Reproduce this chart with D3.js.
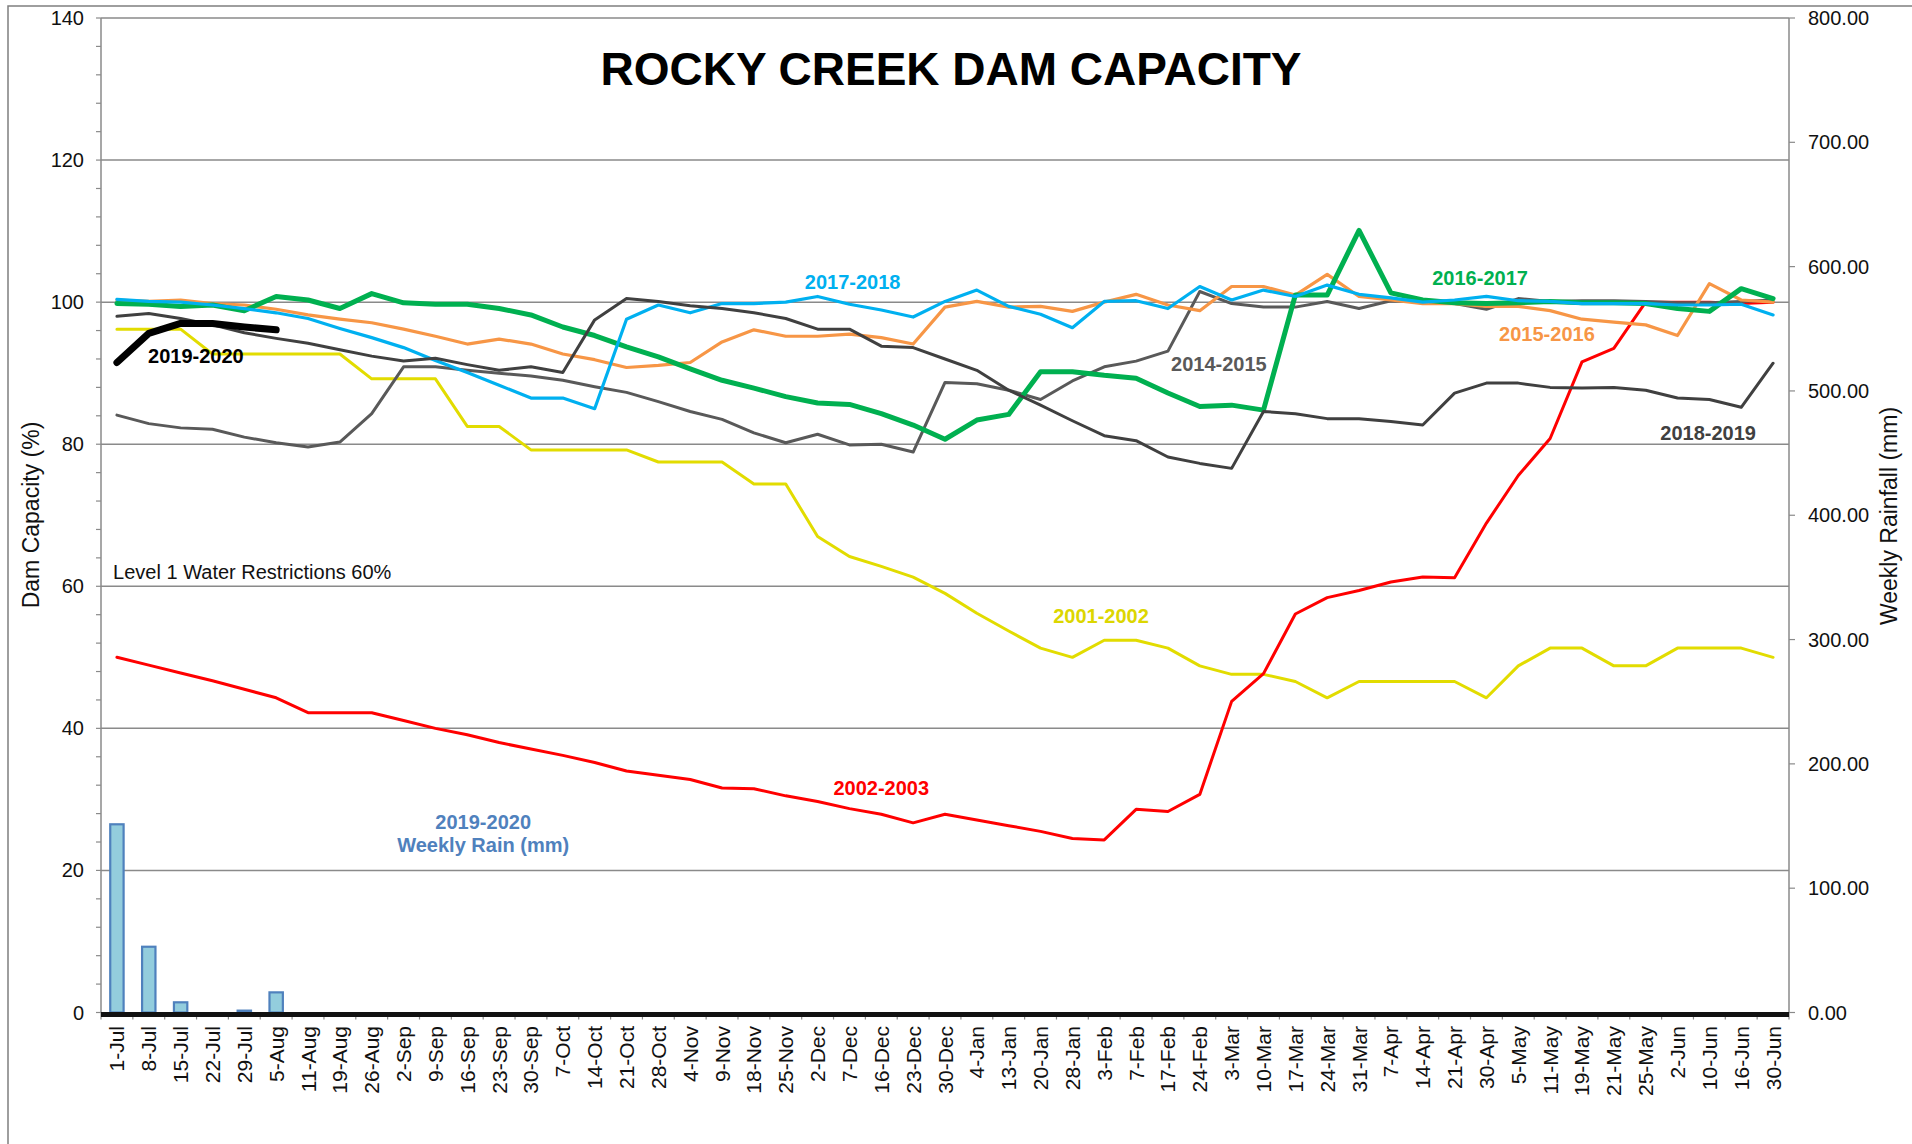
<!DOCTYPE html>
<html>
<head>
<meta charset="utf-8">
<script src="https://cdn.jsdelivr.net/npm/d3@7"></script>
<style>
  html, body { margin: 0; padding: 0; background: #fff; }
  svg { display: block; font-family: Arial, "Liberation Sans", sans-serif; }
</style>
</head>
<body>
<svg id="chart" width="1912" height="1144"></svg>
<script>
// Week starting dates (financial year July to June)
const weeks = ["1-Jul","8-Jul","15-Jul","22-Jul","29-Jul","5-Aug","11-Aug","19-Aug","26-Aug","2-Sep",
  "9-Sep","16-Sep","23-Sep","30-Sep","7-Oct","14-Oct","21-Oct","28-Oct","4-Nov","9-Nov",
  "18-Nov","25-Nov","2-Dec","7-Dec","16-Dec","23-Dec","30-Dec","4-Jan","13-Jan","20-Jan",
  "28-Jan","3-Feb","7-Feb","17-Feb","24-Feb","3-Mar","10-Mar","17-Mar","24-Mar","31-Mar",
  "7-Apr","14-Apr","21-Apr","30-Apr","5-May","11-May","19-May","21-May","25-May","2-Jun",
  "10-Jun","16-Jun","30-Jun"];

// Dam capacity (%) per week, one array per year
const cap2001 = [96.2,96.2,96.2,92.7,92.7,92.7,92.7,92.7,89.2,89.2,89.2,82.5,82.5,79.2,79.2,79.2,79.2,77.5,77.5,77.5,
  74.4,74.4,67.0,64.2,62.8,61.3,59.0,56.2,53.7,51.3,50.0,52.4,52.4,51.3,48.8,47.6,47.6,46.6,44.3,46.6,
  46.6,46.6,46.6,44.3,48.8,51.3,51.3,48.8,48.8,51.3,51.3,51.3,50.0];
const cap2002 = [50.0,48.9,47.8,46.7,45.5,44.3,42.2,42.2,42.2,41.1,40.0,39.1,38.0,37.1,36.2,35.2,34.0,33.4,32.8,31.6,
  31.5,30.5,29.7,28.7,27.9,26.7,27.9,27.1,26.3,25.5,24.5,24.3,28.6,28.3,30.7,43.8,47.7,56.1,58.4,59.4,
  60.6,61.3,61.2,68.9,75.6,80.8,91.6,93.5,100.0,100.0,100.0,99.8,100.0];
const cap2014 = [84.1,82.9,82.3,82.1,81.0,80.2,79.6,80.3,84.3,90.9,90.9,90.4,90.0,89.6,89.0,88.1,87.3,86.0,84.6,83.5,
  81.6,80.2,81.4,79.9,80.0,78.9,88.7,88.5,87.6,86.3,88.9,90.9,91.7,93.1,101.5,99.8,99.3,99.3,100.1,99.1,
  100.2,100.1,99.8,99.0,100.5,100.1,100.2,100.2,100.1,99.9,99.9,100.1,100.3];
const cap2015 = [100.3,100.1,100.3,99.8,99.6,99.0,98.2,97.6,97.1,96.2,95.2,94.1,94.8,94.1,92.7,91.9,90.8,91.1,91.5,94.4,
  96.1,95.2,95.2,95.5,95.0,94.1,99.3,100.1,99.3,99.4,98.7,100.0,101.1,99.6,98.8,102.2,102.2,101.0,103.9,100.8,
  100.3,99.8,99.8,99.4,99.4,98.8,97.6,97.2,96.8,95.3,102.6,100.3,100.0];
const cap2016 = [99.8,99.7,99.4,99.6,98.8,100.8,100.3,99.1,101.2,99.9,99.7,99.7,99.1,98.2,96.5,95.3,93.7,92.3,90.6,89.0,
  87.9,86.7,85.8,85.6,84.3,82.7,80.7,83.4,84.2,90.2,90.2,89.7,89.3,87.2,85.3,85.5,84.8,101.0,101.0,110.1,
  101.3,100.3,99.9,99.8,99.9,100.1,99.9,99.9,99.8,99.1,98.7,101.9,100.5];
const cap2017 = [100.4,100.1,100.0,99.6,99.1,98.5,97.7,96.3,95.0,93.6,91.8,90.1,88.3,86.5,86.5,85.0,97.6,99.6,98.5,99.8,
  99.8,100.0,100.8,99.7,98.9,97.9,100.1,101.7,99.4,98.3,96.4,100.1,100.2,99.1,102.2,100.3,101.7,100.8,102.4,101.1,
  100.6,100.0,100.3,100.8,100.2,100.1,99.8,99.8,99.8,99.6,99.6,99.7,98.2];
const cap2018 = [98.0,98.4,97.7,96.8,95.7,94.9,94.2,93.3,92.4,91.7,92.1,91.2,90.4,90.9,90.1,97.5,100.5,100.1,99.5,99.1,
  98.5,97.7,96.2,96.2,93.8,93.6,92.0,90.4,87.6,85.5,83.3,81.2,80.5,78.2,77.3,76.6,84.6,84.3,83.6,83.6,
  83.2,82.7,87.2,88.6,88.6,88.0,87.9,88.0,87.6,86.5,86.3,85.2,91.4];
const cap2019 = [91.5,95.6,97.0,97.0,96.5,96.1];

// Weekly rainfall (mm) for 2019-2020
const rain2019 = [151.4,52.9,8.2,0,1.5,16.2];

// Axis ticks
const leftTicks = [0,20,40,60,80,100,120,140];
const leftMinorTicks = d3.range(0, 141, 4);
const rightTicks = [0,100,200,300,400,500,600,700,800];

const svg = d3.select("#chart");
const W = 1912, H = 1144;
const plot = { left: 101, right: 1789, top: 18, bottom: 1012.5 };

const x = d3.scaleBand().domain(weeks).range([plot.left, plot.right]).padding(0);
const yL = d3.scaleLinear().domain([0, 140]).range([plot.bottom, plot.top]);
const yR = d3.scaleLinear().domain([0, 800]).range([plot.bottom, plot.top]);
const xc = w => x(w) + x.bandwidth() / 2;
const xAt = i => plot.left + x.step() * (i + 0.5);

// Outer frame
svg.append("path")
  .attr("d", `M8,${H} L8,6 L${W},6`)
  .attr("fill", "none").attr("stroke", "#7f7f7f").attr("stroke-width", 1.5);

// Horizontal gridlines
svg.append("g").selectAll("line").data(leftTicks.filter(t => t > 0)).join("line")
  .attr("x1", plot.left).attr("x2", plot.right)
  .attr("y1", d => yL(d)).attr("y2", d => yL(d))
  .attr("stroke", "#8a8a8a").attr("stroke-width", 1.5);

// Left axis
const gL = svg.append("g").attr("transform", `translate(${plot.left},0)`);
gL.append("line").attr("y1", plot.top).attr("y2", plot.bottom).attr("stroke", "#8a8a8a").attr("stroke-width", 1.5);
gL.selectAll("line.tk").data(leftMinorTicks).join("line").attr("class", "tk")
  .attr("x1", -5).attr("x2", 0).attr("y1", d => yL(d)).attr("y2", d => yL(d))
  .attr("stroke", "#8a8a8a").attr("stroke-width", 1.2);
gL.selectAll("text").data(leftTicks).join("text")
  .attr("x", -17).attr("y", d => yL(d)).attr("dy", "0.35em")
  .attr("text-anchor", "end").attr("font-size", 20).attr("fill", "#111")
  .text(d => d);

// Right axis
const gR = svg.append("g").attr("transform", `translate(${plot.right},0)`);
gR.append("line").attr("y1", plot.top).attr("y2", plot.bottom).attr("stroke", "#8a8a8a").attr("stroke-width", 1.5);
gR.selectAll("line.tk").data(rightTicks).join("line").attr("class", "tk")
  .attr("x1", 0).attr("x2", 6).attr("y1", d => yR(d)).attr("y2", d => yR(d))
  .attr("stroke", "#8a8a8a").attr("stroke-width", 1.2);
gR.selectAll("text").data(rightTicks).join("text")
  .attr("x", 19).attr("y", d => yR(d)).attr("dy", "0.35em")
  .attr("text-anchor", "start").attr("font-size", 20).attr("fill", "#111")
  .text(d => d3.format(".2f")(d));

// Axis titles
svg.append("text").attr("transform", `translate(39,515) rotate(-90)`)
  .attr("text-anchor", "middle").attr("font-size", 23).attr("fill", "#111").text("Dam Capacity (%)");
svg.append("text").attr("transform", `translate(1897,516) rotate(-90)`)
  .attr("text-anchor", "middle").attr("font-size", 23).attr("fill", "#111").text("Weekly Rainfall (mm)");

// Chart title
svg.append("text").attr("x", 951).attr("y", 85).attr("text-anchor", "middle")
  .attr("font-size", 46).attr("font-weight", "bold").attr("fill", "#000")
  .text("ROCKY CREEK DAM CAPACITY");

// Restriction threshold note
svg.append("text").attr("x", xAt(-0.12)).attr("y", yL(61.0))
  .attr("font-size", 20).attr("fill", "#111").text("Level 1 Water Restrictions 60%");

// Weekly rainfall bars (secondary axis)
const barW = x.bandwidth() * 0.42;
svg.append("g").selectAll("rect").data(rain2019.map((v, i) => ({ w: weeks[i], v }))).join("rect")
  .attr("x", d => xc(d.w) - barW / 2).attr("width", barW)
  .attr("y", d => yR(d.v)).attr("height", d => yR(0) - yR(d.v))
  .attr("fill", "#93cddd").attr("stroke", "#4f81bd").attr("stroke-width", 2.2);

// Capacity lines
const series = [
  { vals: cap2001, color: "#e2dc00", width: 3 },
  { vals: cap2002, color: "#ff0000", width: 3 },
  { vals: cap2014, color: "#595959", width: 3 },
  { vals: cap2015, color: "#f79646", width: 3.2 },
  { vals: cap2016, color: "#00b050", width: 5 },
  { vals: cap2017, color: "#00b0f0", width: 3.2 },
  { vals: cap2018, color: "#404040", width: 3 },
  { vals: cap2019, color: "#000000", width: 7 }
];
const line = d3.line().x((d, i) => xc(weeks[i])).y(d => yL(d));
svg.append("g").selectAll("path").data(series).join("path")
  .attr("d", s => line(s.vals))
  .attr("fill", "none").attr("stroke", s => s.color).attr("stroke-width", s => s.width)
  .attr("stroke-linejoin", "round").attr("stroke-linecap", "round");

// X axis: heavy baseline, tick marks at week boundaries, rotated labels
const gX = svg.append("g");
gX.selectAll("line.tk").data(d3.range(weeks.length + 1)).join("line").attr("class", "tk")
  .attr("x1", i => plot.left + i * x.step()).attr("x2", i => plot.left + i * x.step())
  .attr("y1", plot.bottom).attr("y2", plot.bottom + 7)
  .attr("stroke", "#8a8a8a").attr("stroke-width", 1.2);
gX.append("line").attr("x1", plot.left).attr("x2", plot.right)
  .attr("y1", plot.bottom + 2).attr("y2", plot.bottom + 2)
  .attr("stroke", "#111").attr("stroke-width", 5);
gX.selectAll("text").data(weeks).join("text")
  .attr("transform", w => `translate(${xc(w) + 7.5},1026) rotate(-90)`)
  .attr("text-anchor", "end").attr("font-size", 21).attr("fill", "#111")
  .text(w => w);

// Series labels
const labels = [
  { text: "2019-2020", i: 2.48, v: 91.4, color: "#000000" },
  { text: "2017-2018", i: 23.1, v: 101.8, color: "#00b0f0" },
  { text: "2016-2017", i: 42.8, v: 102.4, color: "#00b050" },
  { text: "2015-2016", i: 44.9, v: 94.5, color: "#f79646" },
  { text: "2014-2015", i: 34.6, v: 90.3, color: "#595959" },
  { text: "2018-2019", i: 49.96, v: 80.6, color: "#404040" },
  { text: "2001-2002", i: 30.9, v: 54.8, color: "#dcd600" },
  { text: "2002-2003", i: 24.0, v: 30.6, color: "#ff0000" },
  { text: "2019-2020", i: 11.5, v: 25.8, color: "#4f81bd" },
  { text: "Weekly Rain (mm)", i: 11.5, v: 22.6, color: "#4f81bd" }
];
svg.append("g").selectAll("text").data(labels).join("text")
  .attr("x", d => xAt(d.i)).attr("y", d => yL(d.v))
  .attr("text-anchor", "middle").attr("font-size", 20).attr("font-weight", "bold")
  .attr("fill", d => d.color).text(d => d.text);
</script>
</body>
</html>
